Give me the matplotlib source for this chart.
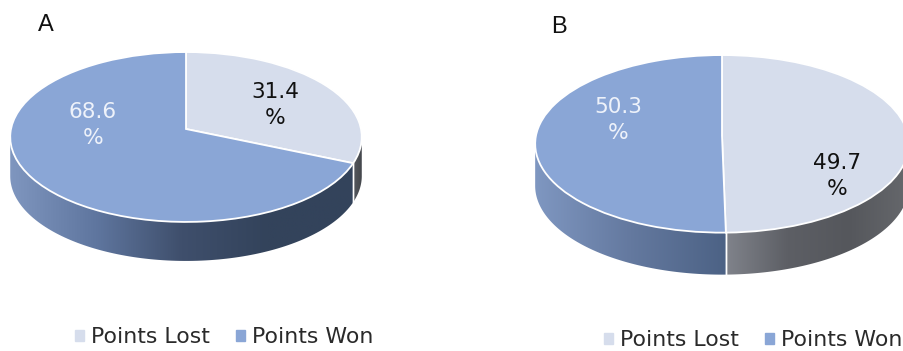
import numpy as np
import matplotlib
matplotlib.use("Agg")
import matplotlib.pyplot as plt
import matplotlib.transforms as mtransforms
from matplotlib.colors import LinearSegmentedColormap
from matplotlib.patches import Patch, Polygon

categories = ["Points Lost", "Points Won"]
values_a = [31.4, 68.6]
values_b = [49.7, 50.3]

top_colors = ["#d6ddec", "#8aa6d6"]

# wall gradients run left to right across each slice
walls_a = [["#55585e", "#44474c"], ["#7f96bf", "#5f769f", "#3f4f6c", "#33435b", "#33435b"]]
walls_b = [["#80838b", "#5d5f65", "#55575c", "#66686c"], ["#7f97c1", "#64799f", "#4c6285"]]


class TiltedDisc(mtransforms.Transform):
    # maps the unit circle onto a disc seen from above, with some perspective
    input_dims = 2
    output_dims = 2
    is_separable = False
    has_inverse = False

    def __init__(self, cx, cy, f, g, k):
        super().__init__()
        self.cx, self.cy, self.f, self.g, self.k = cx, cy, f, g, k

    def transform_non_affine(self, values):
        values = np.asarray(values, dtype=float)
        d = 1 + self.k * values[:, 1]
        return np.column_stack([self.cx + self.f * values[:, 0] / d,
                                self.cy - self.g * values[:, 1] / d])


def draw_pie(ax, values, walls, cx, cy, f, g, depth):
    k = 0.094
    disc = TiltedDisc(cx, cy, f, g, k)
    wedges, _ = ax.pie(values, colors=top_colors, startangle=90, counterclock=False,
                       wedgeprops=dict(edgecolor="white", linewidth=1.3))
    for w in wedges:
        w.set_transform(disc + ax.transData)
        w.set_zorder(3)

    # only the near part of the rim has a visible wall
    front_lo = -180 + np.degrees(np.arcsin(k))
    front_hi = -np.degrees(np.arcsin(k))
    for w, colors in zip(wedges, walls):
        lo = max(w.theta1, front_lo)
        hi = min(w.theta2, front_hi)
        th = np.radians(np.linspace(lo, hi, 120))
        rim = disc.transform_non_affine(np.column_stack([np.cos(th), np.sin(th)]))
        low = rim + [0, depth]
        outline = np.vstack([rim - [0, 1], low[::-1]])
        cmap = LinearSegmentedColormap.from_list("wall", colors)
        im = ax.imshow(np.linspace(0, 1, 256).reshape(1, -1), cmap=cmap, aspect="auto",
                       extent=[outline[:, 0].min(), outline[:, 0].max(),
                               outline[:, 1].max(), outline[:, 1].min()], zorder=1)
        im.set_clip_path(Polygon(outline, closed=True, transform=ax.transData))
        # white seam where two slices meet on the wall
        if hi < front_hi:
            ax.plot([rim[-1, 0], low[-1, 0]], [rim[-1, 1], low[-1, 1]],
                    color="white", lw=1.0, zorder=2)
        if lo > front_lo:
            ax.plot([rim[0, 0], low[0, 0]], [rim[0, 1], low[0, 1]],
                    color="white", lw=1.0, zorder=2)
    return wedges


fig = plt.figure(figsize=(9.04, 3.51), dpi=100)
ax = fig.add_axes([0, 0, 1, 1])

wedges_a = draw_pie(ax, values_a, walls_a, 186, 129, 175, 84.2, 39)
wedges_b = draw_pie(ax, values_b, walls_b, 722, 135.5, 186, 88, 42)

ax.set_aspect("auto")
ax.set_xlim(0, 904)
ax.set_ylim(351, 0)
ax.set_axis_off()

label_size = 15.6
label_opts = dict(fontsize=label_size, ha="center", va="center", linespacing=1.35, zorder=5)
ax.text(275, 105, f"{values_a[0]}\n%", color="#111111", **label_opts)
ax.text(93, 125, f"{values_a[1]}\n%", color="#eef2fa", **label_opts)
ax.text(837, 176, f"{values_b[0]}\n%", color="#111111", **label_opts)
ax.text(618, 120, f"{values_b[1]}\n%", color="#eef2fa", **label_opts)

ax.text(38, 25, "A", fontsize=17, family="Liberation Sans", va="center", color="#111111")
ax.text(551, 27, "B", fontsize=17, family="Liberation Sans", va="center", color="#111111")


def add_legend(x, y):
    handles = [Patch(color=c) for c in top_colors]
    fig.legend(handles, categories, ncol=2, frameon=False, fontsize=15.8,
               loc="center left", bbox_to_anchor=(x, y), bbox_transform=ax.transData,
               borderpad=0, borderaxespad=0, handlelength=0.4, handleheight=0.4,
               handletextpad=0.32, columnspacing=1.22, labelcolor="#2a2a2a")


add_legend(75, 337)
add_legend(604, 340)

fig.savefig("out.png", dpi=100)
